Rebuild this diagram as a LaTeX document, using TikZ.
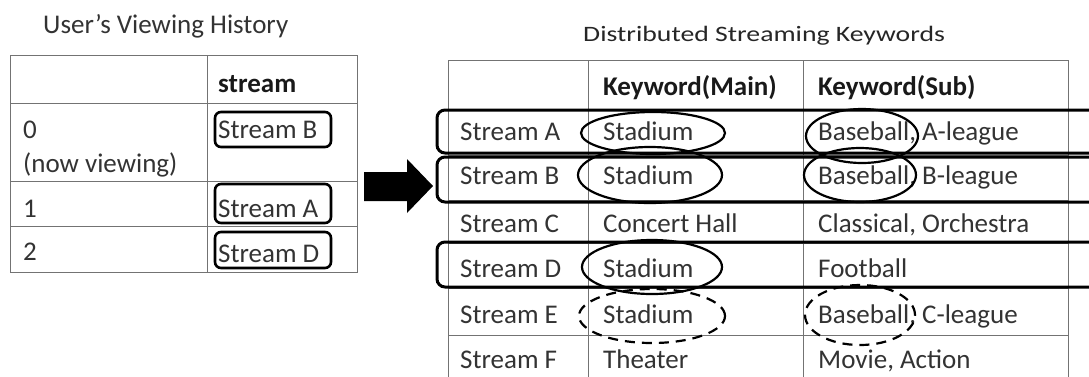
\documentclass[tikz,border=0pt]{standalone}
\usepackage{fontspec}
\setmainfont{Carlito}
\usetikzlibrary{shapes.geometric}
\begin{document}
\begin{tikzpicture}[x=1pt,y=-1pt,
  grid/.style={draw=black!55, line width=1pt},
  txt/.style={anchor=base west, inner sep=0pt, font=\fontsize{27}{32}\selectfont, text=black!80},
  hdr/.style={txt, font=\fontsize{27}{32}\selectfont\bfseries, text=black!90},
  ttl/.style={anchor=base west, inner sep=0pt, font=\fontsize{22}{26}\selectfont, text=black!85},
  selbox/.style={draw=black, line width=2.6pt, rounded corners=6pt, inner sep=0pt},
  rowbox/.style={draw=black, line width=3pt, rounded corners=8pt, inner sep=0pt, minimum width=673pt},
  kw/.style={draw=black, line width=2.2pt, ellipse, inner sep=0pt},
  kwd/.style={kw, dash pattern=on 10pt off 7pt}]
\useasboundingbox (0,0) rectangle (1089,376);
\clip (0,0) rectangle (1089,376);

% ---------- left table ----------
\node[txt] (t1) at (43,33) {User’s Viewing History};
\draw[grid] (10,55) rectangle (357,272);
\draw[grid] (207,55) -- (207,272);
\foreach \y in {103,181,226} \draw[grid] (10,\y) -- (357,\y);
\node[hdr] (hs) at (218,92) {stream};
\node[txt] (l0) at (23,138) {0};
\node[txt] (l0b) at (23,172) {(now viewing)};
\node[txt] (l1) at (23,217) {1};
\node[txt] (l2) at (23,260) {2};
\node[selbox, minimum width=116pt, minimum height=35pt] (bB) at (273,129.5) {};
\node[selbox, minimum width=116pt, minimum height=39pt] (bA) at (273,203.5) {};
\node[selbox, minimum width=116pt, minimum height=36pt] (bD) at (273,250) {};
\node[txt] (sB) at (218,138) {Stream B};
\node[txt] (sA) at (218,217) {Stream A};
\node[txt] (sD) at (218,262) {Stream D};

% ---------- arrow ----------
\coordinate (arrTip) at (433,186);
\fill[black] (364,172) -- (407,172) -- (407,159) -- (arrTip) -- (407,213) -- (407,201) -- (364,201) -- cycle;

% ---------- right table ----------
\node[ttl] (t2) at (583,41) {\scalebox{1.26}[1]{Distributed Streaming Keywords}};
\foreach \x in {448,588,803,1068} \draw[grid] (\x,60) -- (\x,380);
\foreach \y in {60,109,155,200,243,288,335,380} \draw[grid] (448,\y) -- (1068,\y);
\node[hdr] (hm) at (603,95) {Keyword(Main)};
\node[hdr] (hsub) at (818,95) {Keyword(Sub)};

\node[txt] (rA) at (460,140) {Stream A};
\node[txt] (rB) at (460,184) {Stream B};
\node[txt] (rC) at (460,232) {Stream C};
\node[txt] (rD) at (460,277) {Stream D};
\node[txt] (rE) at (460,323) {Stream E};
\node[txt] (rF) at (460,368) {Stream F};

\node[txt] (mA) at (603,140) {Stadium};
\node[txt] (mB) at (603,184) {Stadium};
\node[txt] (mC) at (603,232) {Concert Hall};
\node[txt] (mD) at (603,277) {Stadium};
\node[txt] (mE) at (603,323) {Stadium};
\node[txt] (mF) at (603,368) {Theater};

\node[txt] (uA) at (818,140) {Baseball, A-league};
\node[txt] (uB) at (818,184) {Baseball, B-league};
\node[txt] (uC) at (818,232) {Classical, Orchestra};
\node[txt] (uD) at (818,277) {Football};
\node[txt] (uE) at (818,323) {Baseball, C-league};
\node[txt] (uF) at (818,368) {Movie, Action};

% row highlight boxes (open to the right)
\node[rowbox, minimum height=43pt] (xA) at (773.5,131.5) {};
\node[rowbox, minimum height=45pt] (xB) at (773.5,179.5) {};
\node[rowbox, minimum height=45pt] (xD) at (773.5,264.5) {};

% keyword ellipses
\node[kw, minimum width=144pt, minimum height=42pt] (eA) at (653,133) {};
\node[kw, minimum width=144pt, minimum height=56pt] (eB) at (650,175) {};
\node[kw, minimum width=140pt, minimum height=54pt] (eD) at (652,267) {};
\node[kwd, minimum width=146pt, minimum height=54pt] (eE) at (652,316) {};
\node[kw, minimum width=112pt, minimum height=54pt] (fA) at (862,136) {};
\node[kw, minimum width=112pt, minimum height=54pt] (fB) at (860,175) {};
\node[kwd, minimum width=110pt, minimum height=60pt] (fE) at (860,315) {};
\end{tikzpicture}
\end{document}
